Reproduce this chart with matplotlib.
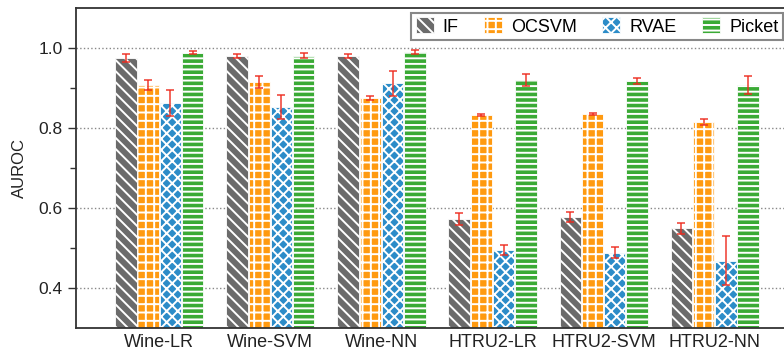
import numpy as np
import matplotlib.pyplot as plt

# --- Data ---
datasets = ['Wine-LR', 'Wine-SVM', 'Wine-NN', 'HTRU2-LR', 'HTRU2-SVM', 'HTRU2-NN']
methods = ['IF', 'OCSVM', 'RVAE', 'Picket']

if_mean = [0.975, 0.980, 0.980, 0.573, 0.578, 0.549]
if_err = [0.010, 0.005, 0.005, 0.015, 0.013, 0.014]
ocsvm_mean = [0.908, 0.915, 0.876, 0.833, 0.835, 0.815]
ocsvm_err = [0.012, 0.014, 0.005, 0.003, 0.003, 0.008]
rvae_mean = [0.863, 0.852, 0.912, 0.495, 0.488, 0.468]
rvae_err = [0.033, 0.030, 0.031, 0.013, 0.014, 0.061]
picket_mean = [0.988, 0.981, 0.990, 0.920, 0.918, 0.908]
picket_err = [0.004, 0.006, 0.006, 0.014, 0.008, 0.022]

means = [if_mean, ocsvm_mean, rvae_mean, picket_mean]
errs = [if_err, ocsvm_err, rvae_err, picket_err]
colors = ['#6b6b6b', '#ff9a10', '#2c8cc8', '#3aaa35']
hatches = ['\\\\\\', '++', 'xxx', '---']

plt.rcParams['font.family'] = ['Liberation Sans', 'DejaVu Sans']
plt.rcParams['hatch.linewidth'] = 1.4

fig = plt.figure(figsize=(7.84, 3.51), dpi=100)
ax = fig.add_axes([76 / 784, 23 / 351, 722 / 784, 320 / 351])

x = np.arange(len(datasets))
width = 0.2
for i, m in enumerate(methods):
    pos = x + (i - 1.5) * width
    ax.bar(pos, means[i], width=width * 0.97, color=colors[i], hatch=hatches[i],
           edgecolor='white', linewidth=0.6, label=m, zorder=2)
    ax.errorbar(pos, means[i], yerr=errs[i], fmt='none', ecolor='#ee2a1e',
                elinewidth=1.2, capsize=3, capthick=1.2, alpha=0.85, zorder=3)

ax.set_xlim(-0.75, len(datasets) - 0.25)
ax.set_ylim(0.3, 1.1)
ax.set_yticks([0.4, 0.6, 0.8, 1.0])
ax.set_yticks([0.5, 0.7, 0.9], minor=True)
ax.set_xticks(x)
ax.set_xticklabels(datasets)
ax.tick_params(axis='x', length=0, labelsize=13, colors='#222222', pad=4)
ax.tick_params(axis='y', which='major', length=6, width=1.0, labelsize=12.5,
               colors='#333333', labelcolor='#222222')
ax.tick_params(axis='y', which='minor', length=4, width=1.0, colors='#333333')
ax.set_ylabel('AUROC', fontsize=12, color='#222222', labelpad=8)

ax.grid(axis='y', which='major', linestyle=':', color='#888888', linewidth=1.0, zorder=0)
ax.set_axisbelow(True)

for side in ['left', 'top', 'bottom']:
    ax.spines[side].set_color('#333333')
    ax.spines[side].set_linewidth(1.3)
ax.spines['right'].set_visible(False)

leg = ax.legend(loc='upper right', bbox_to_anchor=(0.979, 0.985), ncol=4,
                fontsize=13, handlelength=1.0, handleheight=1.0, columnspacing=1.4,
                handletextpad=0.5, borderaxespad=0, fancybox=False, framealpha=1,
                borderpad=0.25)
leg.get_frame().set_edgecolor('#888888')
leg.get_frame().set_linewidth(1.5)

fig.savefig('out.png', dpi=100)
